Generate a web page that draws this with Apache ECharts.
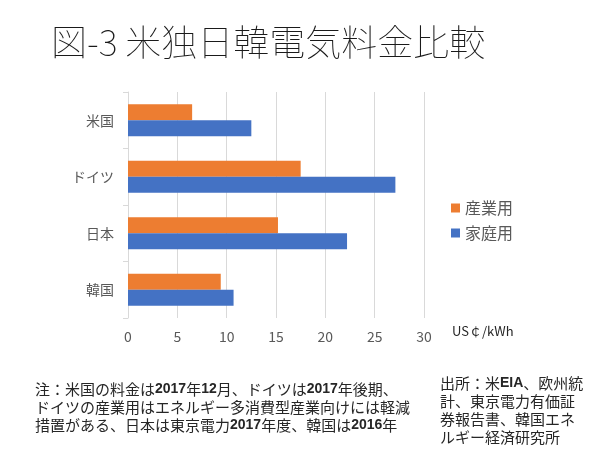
<!DOCTYPE html>
<html>
<head>
<meta charset="utf-8">
<script src="https://cdn.jsdelivr.net/npm/echarts@6/dist/echarts.min.js"></script>
<style>
  html, body { margin: 0; padding: 0; background: #fff; }
  #main { width: 600px; height: 450px; }
</style>
</head>
<body>
<div id="main"></div>
<script>
// 国名（上から順）
var countries = ['米国', 'ドイツ', '日本', '韓国'];
// 産業用・家庭用 (US¢/kWh)
var industrial = [6.5, 17.5, 15.2, 9.4];
var residential = [12.5, 27.1, 22.2, 10.7];
var xTicks = [0, 5, 10, 15, 20, 25, 30];

var FONT = '"Noto Sans CJK JP", "Noto Sans", sans-serif';

var noteLeft = [
  '注：米国の料金は{b|2017}年{b|12}月、ドイツは{b|2017}年後期、',
  'ドイツの産業用はエネルギー多消費型産業向けには軽減',
  '措置がある、日本は東京電力{b|2017}年度、韓国は{b|2016}年'
].join('\n');
var noteRight = [
  '出所：米{b|EIA}、欧州統',
  '計、東京電力有価証',
  '券報告書、韓国エネ',
  'ルギー経済研究所'
].join('\n');

var myChart = echarts.init(document.getElementById('main'));
var option = {
  backgroundColor: '#fff',
  textStyle: { fontFamily: FONT },
  title: {
    text: '図-3 米独日韓電気料金比較',
    left: 46,
    top: 19,
    textStyle: { fontFamily: FONT, fontSize: 36, fontWeight: 100, color: '#1a1a1a' }
  },
  legend: {
    orient: 'vertical',
    left: 446,
    top: 195,
    itemWidth: 9,
    itemHeight: 9,
    itemGap: 9,
    icon: 'rect',
    textStyle: { fontSize: 16, color: '#595959', fontFamily: FONT },
    data: ['産業用', '家庭用']
  },
  grid: { left: 128, right: 176, top: 92, bottom: 132 },
  xAxis: {
    type: 'value',
    min: xTicks[0],
    max: xTicks[xTicks.length - 1],
    interval: 5,
    axisLine: { show: false },
    axisTick: { show: false },
    axisLabel: { color: '#595959', fontSize: 14, margin: 12 },
    splitLine: { lineStyle: { color: '#d9d9d9', width: 1 } }
  },
  yAxis: {
    type: 'category',
    inverse: true,
    data: countries,
    axisLine: { lineStyle: { color: '#d9d9d9' } },
    axisTick: { show: true, length: 5, lineStyle: { color: '#d9d9d9' } },
    axisLabel: { color: '#595959', fontSize: 14, margin: 14 }
  },
  series: [
    {
      name: '産業用',
      type: 'bar',
      data: industrial,
      barWidth: 16,
      barGap: '0%',
      itemStyle: { color: '#ED7D31' }
    },
    {
      name: '家庭用',
      type: 'bar',
      data: residential,
      barWidth: 16,
      barGap: '0%',
      itemStyle: { color: '#4472C4' }
    }
  ],
  graphic: [
    {
      type: 'text',
      left: 452,
      top: 325,
      style: { text: 'US￠/kWh', fontSize: 13, fill: '#262626', fontFamily: FONT }
    },
    {
      type: 'text',
      left: 35,
      top: 380,
      style: {
        text: noteLeft,
        fontSize: 15,
        lineHeight: 18,
        fill: '#262626',
        fontFamily: FONT,
        rich: { b: { fontSize: 14, fontWeight: 'bold', fill: '#262626', lineHeight: 18, fontFamily: '"Liberation Sans", sans-serif' } }
      }
    },
    {
      type: 'text',
      left: 440,
      top: 374,
      style: {
        text: noteRight,
        fontSize: 15,
        lineHeight: 18,
        fill: '#262626',
        fontFamily: FONT,
        rich: { b: { fontSize: 14, fontWeight: 'bold', fill: '#262626', lineHeight: 18, fontFamily: '"Liberation Sans", sans-serif' } }
      }
    }
  ]
};
myChart.setOption(option);
</script>
</body>
</html>
